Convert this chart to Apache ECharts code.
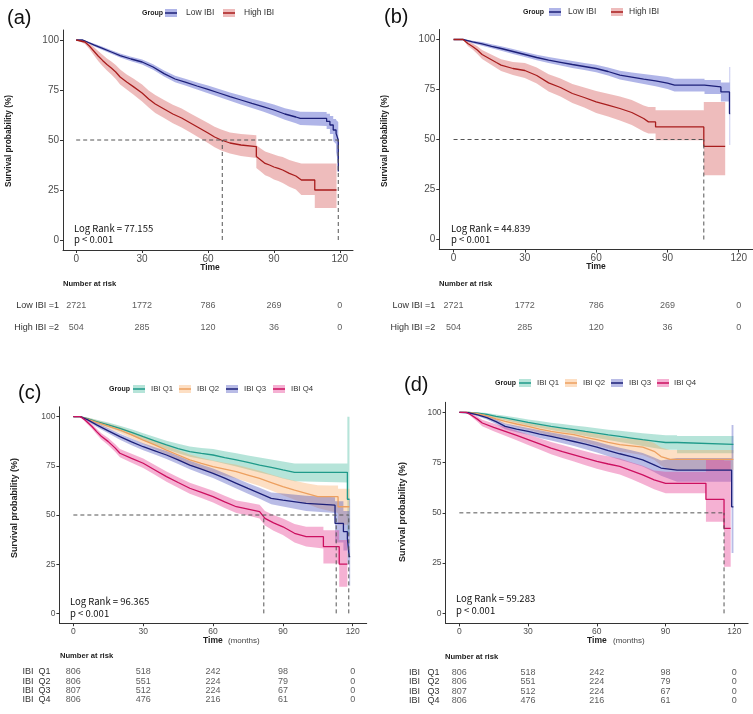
<!DOCTYPE html>
<html>
<head>
<meta charset="utf-8">
<script src="https://cdn.jsdelivr.net/npm/echarts@6/dist/echarts.min.js"></script>
<style>
html, body { margin: 0; padding: 0; background: #fff; }
#main { width: 753px; height: 714px; }
</style>
</head>
<body>
<div id="main"></div>
<script>
var timeTicks = [0, 30, 60, 90, 120];
var survTicks = [0, 25, 50, 75, 100];

// curve vertices (repeated time = vertical drop)
// (a) Low IBI / High IBI
var aLowT  = [0, 3, 8, 12, 16, 20, 25, 30, 35, 40, 45, 50, 55, 60, 65, 70, 75, 80, 85, 90, 95, 100, 102, 114, 114, 115.5, 115.5, 117, 117, 118.3, 118.3, 119.3, 119.3];
var aLowS  = [100, 100, 97.6, 95.8, 94, 92.2, 90.5, 89, 86.5, 83.2, 80.5, 78.8, 77, 75.3, 73.5, 71.7, 70, 68.3, 66.7, 65, 63, 61.5, 60.8, 60.8, 59.3, 59.3, 57.5, 57.5, 55, 55, 53.3, 50, 34.2];
var aLowLo = [100, 100, 96.9, 95, 93.1, 91.2, 89.4, 87.7, 85.1, 81.7, 78.9, 77.1, 75.2, 73.4, 71.5, 69.6, 67.8, 66, 64.2, 62.3, 60.1, 58.4, 57.5, 57, 55.5, 55.5, 53, 53, 49.5, 48, 44, 38, 20];
var aLowHi = [100, 100, 98.3, 96.6, 94.9, 93.2, 91.6, 90.3, 87.9, 84.7, 82.1, 80.5, 78.8, 77.2, 75.5, 73.8, 72.2, 70.6, 69.2, 67.7, 65.9, 64.6, 64.1, 64, 63.1, 63.1, 62, 62, 60.5, 60.5, 60, 59, 59];

var aHighT  = [0, 4, 6, 8, 10, 12, 14, 16, 18, 20, 23, 26, 30, 33, 36, 40, 44, 48, 52, 56, 60, 63, 66, 70, 75, 82, 82, 84, 86, 88, 90, 92, 94, 97, 100, 102.5, 108.6, 108.6, 118.5];
var aHighS  = [100, 99, 97, 94.5, 92, 89.8, 87.8, 86, 84, 81.5, 79, 76.7, 73.5, 70.5, 68, 65.5, 63, 61, 58.5, 56, 53.5, 51.5, 50, 48.5, 47.5, 46.7, 41.7, 40, 38.3, 37.5, 36.5, 35.8, 35, 33.3, 32, 30, 30, 25, 25];
var aHighLo = [100, 98, 95.5, 92.5, 89.5, 87, 84.8, 82.8, 80.5, 77.8, 75.2, 72.7, 69.3, 66.2, 63.5, 61, 58.4, 56.3, 53.7, 51.1, 48.5, 46.4, 44.8, 43.2, 42, 41, 36, 34.2, 32.4, 31.5, 30.3, 29.5, 28.5, 26.6, 25.2, 22.5, 22.5, 16, 16];
var aHighHi = [100, 100, 98.5, 96.5, 94.5, 92.6, 90.8, 89.2, 87.5, 85.2, 82.8, 80.7, 77.7, 74.8, 72.5, 70, 67.6, 65.7, 63.3, 60.9, 58.5, 56.6, 55.2, 53.8, 53, 52.4, 47.4, 45.8, 44.2, 43.5, 42.7, 42, 41.5, 40, 39, 38.3, 38.3, 38.3, 38.3];
var aMedians = [66.5, 119.3];

// (b) Low IBI / High IBI
var bLowT  = [0, 4, 8, 12, 16, 20, 25, 30, 35, 40, 45, 50, 55, 60, 65, 70, 75, 80, 85, 90, 93, 105.6, 105.6, 112.5, 112.5, 116.1, 116.1, 116.4];
var bLowS  = [100, 100, 98.8, 97.8, 96.6, 95.5, 94, 92.5, 91, 89.7, 88.6, 87.5, 86.5, 85.5, 84, 82.2, 81.2, 80.2, 79.3, 78.2, 77.2, 77.2, 76.3, 76.3, 73.8, 73.8, 63, 63];
var bLowLo = [100, 100, 98.1, 96.9, 95.6, 94.4, 92.8, 91.2, 89.6, 88.2, 87, 85.8, 84.7, 83.6, 82, 80, 78.9, 77.7, 76.6, 75.2, 74, 74, 72.8, 72.8, 69, 69, 47.2, 47.2];
var bLowHi = [100, 100, 99.4, 98.7, 97.6, 96.6, 95.2, 93.8, 92.4, 91.2, 90.2, 89.2, 88.3, 87.4, 86, 84.4, 83.5, 82.7, 82, 81.2, 80.4, 80.4, 79.8, 79.8, 78.5, 78.5, 86.3, 86.3];

var bHighT  = [0, 4, 6, 8, 10, 12, 15, 18, 20, 25, 30, 35, 40, 45, 50, 55, 60, 65, 70, 75, 80, 82, 85, 85, 105.3, 105.3, 114.3];
var bHighS  = [100, 100, 98, 96.5, 94.7, 92.5, 90.5, 88.5, 87.2, 85.5, 84.5, 82, 78.3, 76, 73, 71, 68.8, 67.2, 65.5, 63.5, 60.5, 58.8, 58.8, 56.3, 56.3, 46.6, 46.6];
var bHighLo = [100, 100, 96.8, 95, 92.8, 90.3, 88, 85.8, 84.3, 82.3, 80.8, 78, 74, 71.5, 68.2, 66, 63.3, 61.5, 59.5, 57.2, 54, 53, 53, 49.6, 49.6, 32.1, 32.1];
var bHighHi = [100, 100, 99.2, 98, 96.6, 94.7, 93, 91.2, 90.1, 88.7, 88.2, 86, 82.6, 80.5, 77.8, 76, 74.3, 72.9, 71.5, 69.8, 67, 66.3, 66.3, 64.6, 64.6, 68.8, 68.8];
var bMedians = [105.3];

// (c) quartiles
var cQ1T  = [0, 3, 6, 10, 15, 20, 25, 30, 35, 40, 45, 50, 55, 60, 65, 70, 75, 80, 85, 90, 95, 117.7, 117.7, 118.6];
var cQ1S  = [100, 100, 99, 97.5, 95.8, 94, 92, 89.8, 87.7, 85.6, 83.8, 82.2, 81.3, 80.5, 79.2, 78, 76.7, 75.4, 74.2, 72.9, 71.7, 71.7, 58, 58];
var cQ1Lo = [100, 100, 98.4, 96.6, 94.6, 92.6, 90.4, 88, 85.7, 83.4, 81.4, 79.6, 78.5, 77.5, 76, 74.6, 73.1, 71.6, 70.2, 68.6, 67.2, 66.5, 40, 40];
var cQ1Hi = [100, 100, 99.6, 98.4, 97, 95.4, 93.6, 91.6, 89.7, 87.8, 86.2, 84.8, 84.1, 83.5, 82.4, 81.4, 80.3, 79.2, 78.2, 77.2, 76.2, 76.2, 100, 100];

var cQ2T  = [0, 3, 6, 10, 15, 20, 25, 30, 35, 40, 45, 50, 55, 60, 65, 70, 75, 80, 85, 90, 95, 100, 105, 110, 113.7, 113.7, 118.6];
var cQ2S  = [100, 100, 98.8, 97.1, 95.2, 93.2, 90.7, 88.1, 85.6, 83, 80.5, 78, 76.2, 74.6, 73.3, 72, 70.3, 68.6, 66.5, 64.4, 62.6, 61, 59.3, 59.3, 59.3, 54.2, 54.2];
var cQ2Lo = [100, 100, 98.1, 96.1, 93.9, 91.7, 89, 86.2, 83.5, 80.7, 78, 75.3, 73.3, 71.5, 70, 68.5, 66.6, 64.7, 62.4, 60, 57.8, 55.8, 53.5, 52, 51, 45, 45];
var cQ2Hi = [100, 100, 99.5, 98.1, 96.5, 94.7, 92.4, 90, 87.7, 85.3, 83, 80.7, 79.1, 77.7, 76.6, 75.5, 74, 72.5, 70.6, 68.8, 67.4, 66.2, 65.1, 65, 65, 63.4, 63.4];

var cQ3T  = [0, 3, 6, 10, 15, 20, 25, 30, 35, 40, 45, 50, 55, 60, 65, 70, 75, 80, 85, 90, 100, 112.4, 112.4, 116, 116, 117.7, 117.7, 118.5, 118.5, 118.9];
var cQ3S  = [100, 100, 98.5, 95.8, 92.8, 89.8, 87.2, 84.7, 82.6, 80.5, 78, 75.4, 73.3, 71.2, 68.7, 66.1, 63.5, 61, 58.5, 57.6, 55.9, 55, 45.7, 45.7, 41.5, 41.5, 38, 38, 28.8, 28.8];
var cQ3Lo = [100, 100, 97.8, 94.7, 91.5, 88.3, 85.5, 82.9, 80.7, 78.5, 75.9, 73.2, 71, 68.8, 66.2, 63.5, 60.8, 58.2, 55.5, 54.3, 52, 51, 36, 36, 32, 32, 25, 25, 14, 14];
var cQ3Hi = [100, 100, 99.2, 96.9, 94.1, 91.3, 88.9, 86.5, 84.5, 82.5, 80.1, 77.6, 75.6, 73.6, 71.2, 68.7, 66.2, 63.8, 61.5, 60.9, 59.8, 59, 57, 57, 52, 52, 52, 52, 58, 58];

var cQ4T  = [0, 3, 5, 8, 10, 12, 15, 18, 20, 25, 30, 35, 40, 45, 50, 55, 60, 65, 70, 75, 80, 82.3, 86, 90, 95, 100, 107.4, 107.4, 114.2, 114.2, 117.7];
var cQ4S  = [100, 100, 98.3, 95, 92.4, 90, 87.3, 84, 81.4, 78.8, 76.3, 72.9, 69.5, 66.5, 63.6, 61.5, 59.3, 56.7, 54.2, 53, 51.7, 48.3, 46, 44, 40.7, 39, 39, 33.9, 33.9, 25, 25];
var cQ4Lo = [100, 100, 97.4, 93.8, 91, 88.4, 85.5, 82, 79.3, 76.5, 73.9, 70.4, 66.9, 63.8, 60.8, 58.6, 56.3, 53.6, 51, 49.7, 48.2, 44.6, 42, 39.8, 36, 34, 33, 25.4, 25.4, 13.5, 13.5];
var cQ4Hi = [100, 100, 99.2, 96.2, 93.8, 91.6, 89.1, 86, 83.5, 81.1, 78.7, 75.4, 72.1, 69.2, 66.4, 64.4, 62.3, 59.8, 57.4, 56.3, 55.2, 52, 50, 48.2, 45.4, 44, 44, 42.3, 42.3, 37.3, 37.3];
var cMedians = [81.8, 112.9, 118.3];

// (d) quartiles
var dQ1T  = [0, 4, 8, 12, 16, 20, 25, 30, 35, 40, 45, 50, 55, 60, 65, 70, 75, 80, 85, 90, 95, 95, 119.6];
var dQ1S  = [100, 100, 99.6, 99, 98, 97.2, 96.1, 95, 94, 93, 92.2, 91.4, 90.5, 89.7, 88.8, 88, 87.2, 86.4, 85.7, 85, 85, 84.1, 84.1];
var dQ1Lo = [100, 100, 99.2, 98.3, 97.1, 96.1, 94.8, 93.5, 92.3, 91.2, 90.2, 89.3, 88.2, 87.3, 86.2, 85.2, 84.2, 83.2, 82.3, 81.4, 81.4, 79.6, 79.6];
var dQ1Hi = [100, 100, 100, 99.7, 98.9, 98.3, 97.4, 96.5, 95.7, 94.8, 94.2, 93.5, 92.8, 92.1, 91.4, 90.8, 90.2, 89.6, 89.1, 88.6, 88.6, 88.2, 88.2];

var dQ2T  = [0, 4, 8, 12, 16, 20, 25, 30, 35, 40, 45, 50, 55, 60, 65, 70, 75, 80, 85, 88, 92, 119.6];
var dQ2S  = [100, 100, 99.3, 98.3, 96.8, 95.5, 94.2, 93, 91.7, 90.5, 89.7, 88.9, 87.6, 86.4, 85.1, 83.9, 83.3, 82.7, 80.6, 78, 76.6, 76.6];
var dQ2Lo = [100, 100, 98.8, 97.5, 95.8, 94.2, 92.7, 91.3, 89.8, 88.4, 87.4, 86.4, 84.9, 83.5, 82, 80.5, 79.6, 78.8, 76.4, 73.5, 71.3, 71.3];
var dQ2Hi = [100, 100, 99.8, 99.1, 97.8, 96.8, 95.7, 94.7, 93.6, 92.6, 92, 91.4, 90.3, 89.3, 88.2, 87.3, 87, 86.6, 84.8, 82.5, 81.3, 81.3];

var dQ3T  = [0, 4, 8, 12, 16, 20, 25, 30, 35, 40, 45, 50, 55, 60, 65, 70, 75, 80, 85, 88, 95, 118.8, 118.8, 119.6];
var dQ3S  = [100, 99.8, 98.7, 97.4, 95.4, 93, 91.7, 90.5, 89.2, 88, 86.8, 85.5, 84.2, 82.7, 81, 79.4, 78, 76.4, 73.9, 72.3, 71.3, 71.3, 53, 53];
var dQ3Lo = [100, 99.4, 98, 96.4, 94.2, 91.6, 90.1, 88.8, 87.3, 86, 84.6, 83.2, 81.7, 80, 78.2, 76.4, 74.8, 73, 70.3, 68.5, 65.5, 65.5, 30, 30];
var dQ3Hi = [100, 100, 99.4, 98.4, 96.6, 94.4, 93.3, 92.2, 91.1, 90, 89, 87.8, 86.7, 85.4, 83.8, 82.4, 81.2, 79.8, 77.5, 76.1, 77.3, 77.3, 93.7, 93.7];

var dQ4T  = [0, 3, 5, 8, 10, 15, 20, 25, 30, 35, 40, 45, 50, 55, 60, 65, 70, 75, 80, 85, 90, 107.6, 107.6, 115.5, 115.5, 118.4];
var dQ4S  = [100, 100, 98.8, 96.5, 94.7, 92.5, 90.5, 88.5, 86.4, 84.3, 82.2, 80.5, 78.9, 77.2, 75.6, 74.3, 73.1, 71, 68.9, 66.4, 64.7, 64.7, 56.7, 56.7, 42.3, 42.3];
var dQ4Lo = [100, 100, 98, 95.2, 93.1, 90.6, 88.3, 86.1, 83.8, 81.5, 79.2, 77.3, 75.6, 73.7, 72, 70.5, 69.1, 66.8, 64.4, 61.7, 59.7, 59.7, 45.6, 45.6, 23.2, 23.2];
var dQ4Hi = [100, 100, 99.6, 97.8, 96.3, 94.4, 92.7, 90.9, 89, 87.1, 85.2, 83.7, 82.2, 80.7, 79.2, 78.1, 77.1, 75.2, 73.4, 71.1, 70.4, 70.4, 76.6, 76.6, 76, 76];
var dMedians = [115.5];

// number at risk
var riskTimes = [0, 30, 60, 90, 120];
var abRiskRows = ['Low IBI =1', 'High IBI =2'];
var riskLow = [2721, 1772, 786, 269, 0];
var riskHigh = [504, 285, 120, 36, 0];
var cRiskRows = ['IBI  Q1', 'IBI  Q2', 'IBI  Q3', 'IBI  Q4'];
var dRiskRows = ['IBI   Q1', 'IBI   Q2', 'IBI   Q3', 'IBI   Q4'];
var riskQ1 = [806, 518, 242, 98, 0];
var riskQ2 = [806, 551, 224, 79, 0];
var riskQ3 = [807, 512, 224, 67, 0];
var riskQ4 = [806, 476, 216, 61, 0];

var C = {
	low: '#1d2079', lowBand: 'rgba(80,92,205,0.45)',
	high: '#a81d1d', highBand: 'rgba(210,80,80,0.38)',
	q1: '#1f9a8a', q1Band: 'rgba(80,190,165,0.42)',
	q2: '#eda060', q2Band: 'rgba(250,170,100,0.38)',
	q3: '#1d2079', q3Band: 'rgba(70,80,190,0.38)',
	q4: '#cc1060', q4Band: 'rgba(230,70,150,0.42)'
};

var FONT = 'Liberation Sans, Arial, sans-serif';
var myChart = echarts.init(document.getElementById('main'));

// plot panels, then risk tables
var panels = [
	{ left: 63, top: 30, width: 290, height: 220, fs: 10 },
	{ left: 439.3, top: 29.5, width: 317.9, height: 220, fs: 10 },
	{ left: 59.4, top: 406.8, width: 307.3, height: 216.4, fs: 8.5 },
	{ left: 445.6, top: 402.3, width: 302.5, height: 221.1, fs: 8.5 }
];
var riskGrids = [
	{ left: 63, top: 295, width: 290, height: 43 },
	{ left: 439.3, top: 295, width: 317.9, height: 43 },
	{ left: 59.4, top: 667, width: 307.3, height: 37.7 },
	{ left: 445.6, top: 667.5, width: 302.5, height: 37.7 }
];

var grids = [], xAxes = [], yAxes = [], series = [];

panels.forEach(function(p, i) {
	grids.push({ left: p.left, top: p.top, width: p.width, height: p.height });
	xAxes.push({
		type: 'value', gridIndex: i, min: -6, max: 126,
		splitLine: { show: false },
		axisLine: { show: true, onZero: false, lineStyle: { color: '#333', width: 1 } },
		axisTick: { show: true, length: 3, customValues: timeTicks, lineStyle: { color: '#333' } },
		axisLabel: { customValues: timeTicks, fontSize: p.fs, color: '#4d4d4d', margin: 4, fontFamily: FONT }
	});
	yAxes.push({
		type: 'value', gridIndex: i, min: -5, max: 105,
		splitLine: { show: false },
		axisLine: { show: true, onZero: false, lineStyle: { color: '#333', width: 1 } },
		axisTick: { show: true, length: 3, customValues: survTicks, lineStyle: { color: '#333' } },
		axisLabel: { customValues: survTicks, fontSize: p.fs, color: '#4d4d4d', margin: 4, fontFamily: FONT }
	});
});

var riskRowSets = [abRiskRows, abRiskRows, cRiskRows, dRiskRows];
var riskMargins = [4, 4, 9, 6];
riskGrids.forEach(function(r, i) {
	var gi = 4 + i;
	grids.push(r);
	xAxes.push({ type: 'value', gridIndex: gi, min: -6, max: 126, show: false });
	yAxes.push({
		type: 'category', gridIndex: gi, inverse: true, data: riskRowSets[i],
		axisLine: { show: false }, axisTick: { show: false }, splitLine: { show: false },
		axisLabel: { interval: 0, fontSize: 9, color: '#333', margin: riskMargins[i], fontFamily: FONT }
	});
});

// confidence band: upper edge forward, lower edge back
function band(g, t, lo, hi, fill) {
	return {
		type: 'custom', xAxisIndex: g, yAxisIndex: g, silent: true, z: 1,
		data: t.map(function(v, i) { return [v, lo[i], hi[i]]; }),
		renderItem: function(params, api) {
			if (params.dataIndex !== 0) return null;
			var pts = [], i;
			for (i = 0; i < t.length; i++) pts.push(api.coord([t[i], hi[i]]));
			for (i = t.length - 1; i >= 0; i--) pts.push(api.coord([t[i], lo[i]]));
			return { type: 'polygon', shape: { points: pts }, style: { fill: fill } };
		}
	};
}

function kmLine(g, t, s, color) {
	return {
		type: 'line', xAxisIndex: g, yAxisIndex: g, symbol: 'none', silent: true, z: 3,
		data: t.map(function(v, i) { return [v, s[i]]; }),
		lineStyle: { color: color, width: 1.3 }
	};
}

function dashLine(g, pts) {
	return {
		type: 'line', xAxisIndex: g, yAxisIndex: g, symbol: 'none', silent: true, z: 4,
		data: pts, lineStyle: { color: '#555', width: 1, type: [4, 3] }
	};
}

function medianLines(g, meds) {
	var far = Math.max.apply(null, meds);
	series.push(dashLine(g, [[0, 50], [far, 50]]));
	meds.forEach(function(m) { series.push(dashLine(g, [[m, 0], [m, 50]])); });
}

function riskSeries(g, rowName, counts, fs) {
	return {
		type: 'scatter', xAxisIndex: g, yAxisIndex: g, symbolSize: 1, silent: true,
		itemStyle: { color: 'rgba(0,0,0,0)' },
		data: riskTimes.map(function(t, i) { return [t, rowName, counts[i]]; }),
		label: { show: true, position: 'inside', formatter: function(p) { return p.value[2]; },
			fontSize: fs, color: '#333', fontFamily: FONT }
	};
}

// (a)
series.push(band(0, aLowT, aLowLo, aLowHi, C.lowBand));
series.push(band(0, aHighT, aHighLo, aHighHi, C.highBand));
series.push(kmLine(0, aLowT, aLowS, C.low));
series.push(kmLine(0, aHighT, aHighS, C.high));
medianLines(0, aMedians);
// (b)
series.push(band(1, bLowT, bLowLo, bLowHi, C.lowBand));
series.push(band(1, bHighT, bHighLo, bHighHi, C.highBand));
series.push(kmLine(1, bLowT, bLowS, C.low));
series.push(kmLine(1, bHighT, bHighS, C.high));
medianLines(1, bMedians);
// (c)
series.push(band(2, cQ1T, cQ1Lo, cQ1Hi, C.q1Band));
series.push(band(2, cQ2T, cQ2Lo, cQ2Hi, C.q2Band));
series.push(band(2, cQ3T, cQ3Lo, cQ3Hi, C.q3Band));
series.push(band(2, cQ4T, cQ4Lo, cQ4Hi, C.q4Band));
series.push(kmLine(2, cQ1T, cQ1S, C.q1));
series.push(kmLine(2, cQ2T, cQ2S, C.q2));
series.push(kmLine(2, cQ3T, cQ3S, C.q3));
series.push(kmLine(2, cQ4T, cQ4S, C.q4));
medianLines(2, cMedians);
// (d)
series.push(band(3, dQ1T, dQ1Lo, dQ1Hi, C.q1Band));
series.push(band(3, dQ2T, dQ2Lo, dQ2Hi, C.q2Band));
series.push(band(3, dQ3T, dQ3Lo, dQ3Hi, C.q3Band));
series.push(band(3, dQ4T, dQ4Lo, dQ4Hi, C.q4Band));
series.push(kmLine(3, dQ1T, dQ1S, C.q1));
series.push(kmLine(3, dQ2T, dQ2S, C.q2));
series.push(kmLine(3, dQ3T, dQ3S, C.q3));
series.push(kmLine(3, dQ4T, dQ4S, C.q4));
medianLines(3, dMedians);

// risk tables
series.push(riskSeries(4, abRiskRows[0], riskLow, 9));
series.push(riskSeries(4, abRiskRows[1], riskHigh, 9));
series.push(riskSeries(5, abRiskRows[0], riskLow, 9));
series.push(riskSeries(5, abRiskRows[1], riskHigh, 9));
[riskQ1, riskQ2, riskQ3, riskQ4].forEach(function(r, i) {
	series.push(riskSeries(6, cRiskRows[i], r, 9));
	series.push(riskSeries(7, dRiskRows[i], r, 9));
});

// texts
var graphics = [];
function txt(x, y, text, font, opt) {
	opt = opt || {};
	graphics.push({
		type: 'text', x: x, y: y, rotation: opt.rot || 0, silent: true,
		style: { text: text, font: font, fill: opt.fill || '#222',
			align: opt.align || 'left', verticalAlign: 'middle' }
	});
}
function legendKey(x, y, line, bandFill) {
	graphics.push({ type: 'rect', silent: true, shape: { x: x, y: y - 4, width: 12, height: 8 }, style: { fill: bandFill } });
	graphics.push({ type: 'line', silent: true, shape: { x1: x, y1: y, x2: x + 12, y2: y }, style: { stroke: line, lineWidth: 1.5 } });
}

// panel letters
txt(7, 18, '(a)', '20px ' + FONT, { fill: '#111' });
txt(384, 17, '(b)', '20px ' + FONT, { fill: '#111' });
txt(18, 393, '(c)', '20px ' + FONT, { fill: '#111' });
txt(404, 385, '(d)', '20px ' + FONT, { fill: '#111' });

// legends
txt(142, 13, 'Group', 'bold 7px ' + FONT);
legendKey(165, 13, C.low, C.lowBand); txt(186, 13, 'Low IBI', '8.5px ' + FONT, { fill: '#333' });
legendKey(223, 13, C.high, C.highBand); txt(244, 13, 'High IBI', '8.5px ' + FONT, { fill: '#333' });

txt(523, 12, 'Group', 'bold 7px ' + FONT);
legendKey(549, 12, C.low, C.lowBand); txt(568, 12, 'Low IBI', '8.5px ' + FONT, { fill: '#333' });
legendKey(611, 12, C.high, C.highBand); txt(629, 12, 'High IBI', '8.5px ' + FONT, { fill: '#333' });

var qNames = ['IBI Q1', 'IBI Q2', 'IBI Q3', 'IBI Q4'];
var qLines = [C.q1, C.q2, C.q3, C.q4];
var qBands = [C.q1Band, C.q2Band, C.q3Band, C.q4Band];
var cKeyX = [133, 179, 226, 273], cTxtX = [151, 197, 244, 291];
var dKeyX = [519, 565, 611, 657], dTxtX = [537, 583, 629, 674];
txt(109, 389, 'Group', 'bold 7px ' + FONT);
txt(495, 383, 'Group', 'bold 7px ' + FONT);
qNames.forEach(function(n, i) {
	legendKey(cKeyX[i], 389, qLines[i], qBands[i]); txt(cTxtX[i], 389, n, '7.8px ' + FONT, { fill: '#333' });
	legendKey(dKeyX[i], 383, qLines[i], qBands[i]); txt(dTxtX[i], 383, n, '7.8px ' + FONT, { fill: '#333' });
});

// axis titles
var yTitle = 'Survival probability (%)';
txt(9, 141, yTitle, 'bold 8.3px ' + FONT, { rot: Math.PI / 2, align: 'center' });
txt(385, 141, yTitle, 'bold 8.3px ' + FONT, { rot: Math.PI / 2, align: 'center' });
txt(15, 508, yTitle, 'bold 9px ' + FONT, { rot: Math.PI / 2, align: 'center' });
txt(403, 512, yTitle, 'bold 9px ' + FONT, { rot: Math.PI / 2, align: 'center' });
txt(210, 268, 'Time', 'bold 8.5px ' + FONT, { align: 'center' });
txt(596, 267, 'Time', 'bold 8.5px ' + FONT, { align: 'center' });
txt(203, 641, 'Time', 'bold 8.5px ' + FONT);
txt(228, 641, '(months)', '8px ' + FONT, { fill: '#444' });
txt(587, 641, 'Time', 'bold 8.5px ' + FONT);
txt(613, 641, '(months)', '8px ' + FONT, { fill: '#444' });

// log rank
var CJK = '"Noto Sans CJK SC", sans-serif';
txt(74, 228, 'Log Rank = 77.155', '9.5px ' + CJK, { fill: '#111' });
txt(74, 239.5, 'p < 0.001', '9.5px ' + CJK, { fill: '#111' });
txt(451, 228, 'Log Rank = 44.839', '9.5px ' + CJK, { fill: '#111' });
txt(451, 239.5, 'p < 0.001', '9.5px ' + CJK, { fill: '#111' });
txt(70, 601, 'Log Rank = 96.365', '9.5px ' + CJK, { fill: '#111' });
txt(70, 613.5, 'p < 0.001', '9.5px ' + CJK, { fill: '#111' });
txt(456, 598, 'Log Rank = 59.283', '9.5px ' + CJK, { fill: '#111' });
txt(456, 610.5, 'p < 0.001', '9.5px ' + CJK, { fill: '#111' });

// number at risk headers
txt(63, 284, 'Number at risk', 'bold 7.6px ' + FONT);
txt(439, 284, 'Number at risk', 'bold 7.6px ' + FONT);
txt(60, 656, 'Number at risk', 'bold 7.6px ' + FONT);
txt(445, 657, 'Number at risk', 'bold 7.6px ' + FONT);

myChart.setOption({
	animation: false,
	textStyle: { fontFamily: FONT },
	grid: grids,
	xAxis: xAxes,
	yAxis: yAxes,
	series: series,
	graphic: graphics
});
</script>
</body>
</html>
